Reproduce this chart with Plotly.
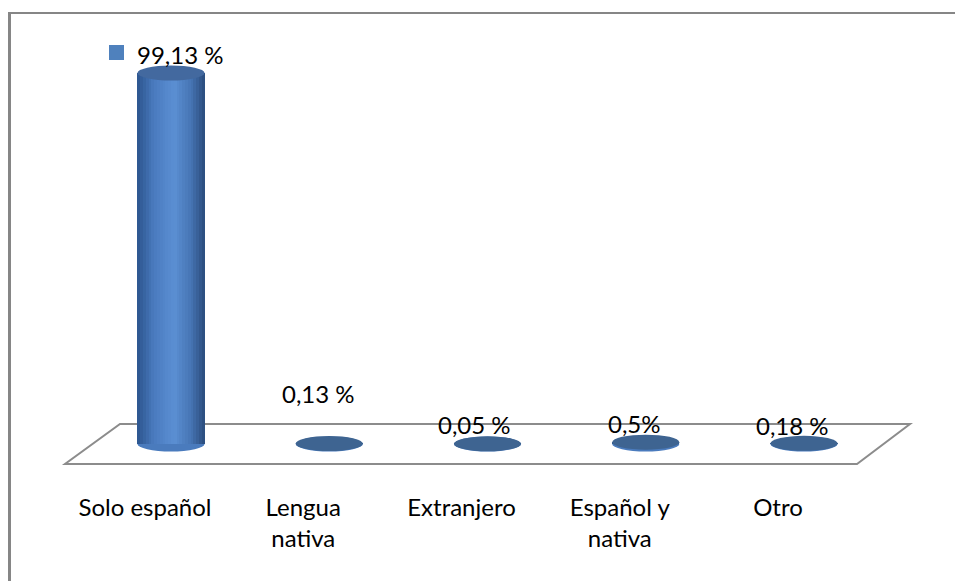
import plotly.graph_objects as go

categories = ["Solo español", "Lengua<br>nativa", "Extranjero", "Español y<br>nativa", "Otro"]
values = [99.13, 0.13, 0.05, 0.5, 0.18]
value_labels = ["99,13 %", "0,13 %", "0,05 %", "0,5%", "0,18 %"]

# label offsets (pixels) - style only
label_dx = [9, -11, -13, -11, -12]
label_dy = [18, 50, 19, 19, 18]

W, H = 955, 581
PX_PER_CAT = 158.25
X0_PX = 171
Y0_PX = 444
PX_PER_UNIT = 3.743
PLOT_BOTTOM_PX = 490

xr = [-X0_PX / PX_PER_CAT, (W - X0_PX) / PX_PER_CAT]
yr = [-(PLOT_BOTTOM_PX - Y0_PX) / PX_PER_UNIT, Y0_PX / PX_PER_UNIT]
label_shift = 26 / PX_PER_CAT

bar_w = 0.424
ry = 7.5 / PX_PER_UNIT

stops = [(0.0, (0x2c, 0x55, 0x8e)), (0.25, (0x4a, 0x7b, 0xbf)), (0.55, (0x5b, 0x8f, 0xd3)),
         (0.8, (0x46, 0x74, 0xb3)), (1.0, (0x2a, 0x4c, 0x7c))]


def grad(t):
    for (t0, c0), (t1, c1) in zip(stops[:-1], stops[1:]):
        if t0 <= t <= t1:
            f = (t - t0) / (t1 - t0)
            return "rgb(%d,%d,%d)" % tuple(round(a + (b - a) * f) for a, b in zip(c0, c1))
    return "rgb(%d,%d,%d)" % stops[-1][1]


xs = list(range(len(categories)))
fig = go.Figure()

N = 24
sw = bar_w / N
for k in range(N):
    fig.add_trace(go.Bar(
        x=xs, y=values, width=sw * 1.05, offset=-bar_w / 2 + k * sw,
        marker=dict(color=grad((k + 0.5) / N), line=dict(width=0)),
        showlegend=False, hoverinfo="skip", xaxis="x", yaxis="y"))

# invisible trace to carry category axis labels
fig.add_trace(go.Scatter(x=xs, y=values, mode="markers", marker=dict(opacity=0),
                         xaxis="x2", yaxis="y", showlegend=False, hoverinfo="skip"))

shapes = []
# floor
fl_top = 20 / PX_PER_UNIT
fl = [((120 - X0_PX) / PX_PER_CAT, fl_top), ((910 - X0_PX) / PX_PER_CAT, fl_top),
      ((857 - X0_PX) / PX_PER_CAT, -fl_top), ((65 - X0_PX) / PX_PER_CAT, -fl_top)]
path = "M " + " L ".join("%f,%f" % p for p in fl) + " Z"
shapes.append(dict(type="path", path=path, xref="x", yref="y", layer="below",
                   line=dict(color="#8c8c8c", width=2), fillcolor="white"))

for i, v in zip(xs, values):
    shapes.append(dict(type="circle", xref="x", yref="y", layer="below",
                       x0=i - bar_w / 2, x1=i + bar_w / 2, y0=-ry, y1=ry,
                       fillcolor="#4a7bbd", line=dict(width=0)))
    top_col = "#43699f" if v > 5 else "#3e6491"
    shapes.append(dict(type="circle", xref="x", yref="y", layer="above",
                       x0=i - bar_w / 2, x1=i + bar_w / 2, y0=v - ry, y1=v + ry,
                       fillcolor=top_col, line=dict(width=0)))

# legend key square next to first label
shapes.append(dict(type="rect", xref="x", yref="y",
                   x0=(109 - X0_PX) / PX_PER_CAT, x1=(124 - X0_PX) / PX_PER_CAT,
                   y0=(Y0_PX - 60) / PX_PER_UNIT, y1=(Y0_PX - 45) / PX_PER_UNIT,
                   fillcolor="#4f81bd", line=dict(width=0)))

# chart border (left & top)
shapes.append(dict(type="line", xref="paper", yref="paper", x0=9.5 / W, x1=9.5 / W,
                   y0=0, y1=1 - 12 / H, line=dict(color="#868686", width=3)))
shapes.append(dict(type="line", xref="paper", yref="paper", x0=8 / W, x1=1,
                   y0=1 - 13 / H, y1=1 - 13 / H, line=dict(color="#868686", width=2)))

annotations = []
for i, v, t, dx, dy in zip(xs, values, value_labels, label_dx, label_dy):
    annotations.append(dict(x=i, y=v, xref="x", yref="y", text=t, showarrow=False,
                            xshift=dx, yshift=dy, yanchor="middle",
                            font=dict(family="Lato", size=24, color="black")))

fig.update_layout(
    width=W, height=H, margin=dict(l=0, r=0, t=0, b=0),
    paper_bgcolor="white", plot_bgcolor="white",
    barmode="overlay", bargap=0,
    shapes=shapes, annotations=annotations,
    xaxis=dict(range=xr, visible=False, fixedrange=True),
    xaxis2=dict(range=[xr[0] + label_shift, xr[1] + label_shift], overlaying="x",
                anchor="y", side="bottom", tickmode="array", tickvals=xs,
                ticktext=categories, showgrid=False, zeroline=False, showline=False,
                ticks="", ticklabelstandoff=1,
                tickfont=dict(family="Lato", size=24, color="black")),
    yaxis=dict(range=yr, domain=[(H - PLOT_BOTTOM_PX) / H, 1], visible=False),
    font=dict(family="Lato"),
)

fig.write_html("out.html", config={"displayModeBar": False},
               post_script="document.body.style.margin='0';document.body.style.overflow='hidden';")
